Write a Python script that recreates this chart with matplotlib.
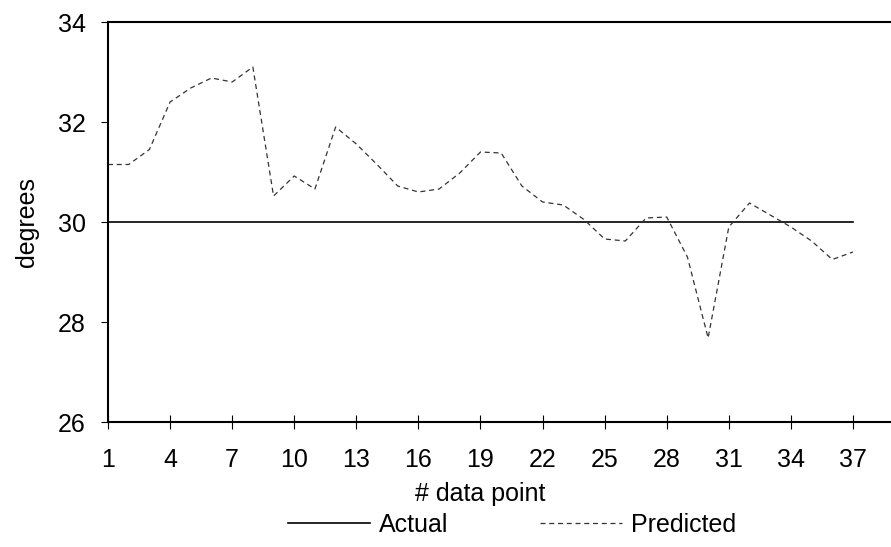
import matplotlib
matplotlib.use("Agg")
import matplotlib.pyplot as plt
import numpy as np

plt.rcParams['font.family'] = ['Liberation Sans', 'DejaVu Sans']

# data
points = np.arange(1, 38)
actual = [30.0] * 37
predicted = [31.15, 31.15, 31.45, 32.4, 32.68, 32.88, 32.8, 33.1, 30.52, 30.92,
             30.66, 31.9, 31.56, 31.15, 30.72, 30.6, 30.66, 30.98, 31.4, 31.38,
             30.72, 30.4, 30.34, 30.05, 29.66, 29.62, 30.08, 30.1, 29.3, 27.68,
             29.9, 30.38, 30.14, 29.9, 29.62, 29.25, 29.4]
xticks = np.arange(1, 38, 3)
yticks = [26, 28, 30, 32, 34]

fs = 18

fig = plt.figure(figsize=(8.91, 5.47), dpi=100)
ax = fig.add_axes([108/891, 125/547, 1 - 108/891, 400/547])

ax.plot(points, actual, '-', color='k', lw=1.2, label='Actual')
ax.plot(points, predicted, color='#333333', lw=0.9, dashes=(4, 3), label='Predicted')

ax.set_xlim(1, 1 + (891 - 107) / 20.72)
ax.set_ylim(26, 34)
ax.set_xticks(xticks)
ax.set_yticks(yticks)
ax.tick_params(axis='x', direction='inout', length=10, width=0.8, pad=14, labelsize=fs)
ax.tick_params(axis='y', direction='out', length=5, width=0.8, pad=11, labelsize=fs)

ax.spines['right'].set_visible(False)
for s in ['top', 'bottom', 'left']:
    ax.spines[s].set_linewidth(1.5)

ax.set_ylabel('degrees', fontsize=fs)
ax.yaxis.set_label_coords((27 - 108) / 783, 0.5)
ax.yaxis.label.set_va('center')
ax.set_xlabel('# data point', fontsize=fs)
ax.xaxis.set_label_coords((480 - 108) / 783, (422 - 494) / 400)
ax.xaxis.label.set_va('center')

fig.legend(loc='center', bbox_to_anchor=(512/891, 1 - 525/547), ncol=2,
           frameon=False, fontsize=fs, handlelength=3.25, columnspacing=3.7,
           handletextpad=0.36)

fig.savefig('out.png', dpi=100)
